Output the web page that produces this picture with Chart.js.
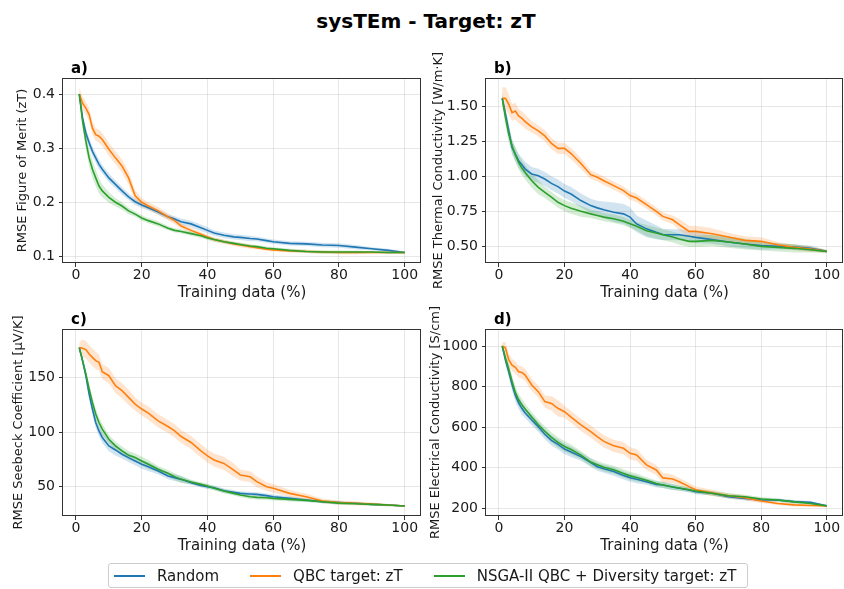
<!DOCTYPE html>
<html>
<head>
<meta charset="utf-8">
<title>sysTEm - Target: zT</title>
<script src="https://cdn.jsdelivr.net/npm/chart.js@4.4.1/dist/chart.umd.min.js"></script>
<style>
  html, body { margin:0; padding:0; background:#fff; }
  body { width:844px; height:589px; position:relative; overflow:hidden; font-family:'DejaVu Sans', sans-serif; color:#1a1a1a; }
  #titulo { position:absolute; left:0; top:11px; width:852px; text-align:center; font-weight:bold; font-size:20px; line-height:20px; color:#000; }
  .painel { position:absolute; }
  #legenda { position:absolute; left:108px; top:563px; width:640px; height:25px; box-sizing:border-box; border:1px solid #cccccc; border-radius:3px;
             display:flex; align-items:center; padding-left:5px; font-size:15px; white-space:nowrap; }
  #legenda .linha { display:inline-block; width:31px; height:2px; margin-right:12px; }
  #legenda .texto { margin-right:31px; }
  #legenda .texto:last-child { margin-right:0; }
</style>
</head>
<body>
<div id="titulo">sysTEm - Target: zT</div>
<canvas id="pa" class="painel" width="422" height="270" style="left:0;top:40px"></canvas>
<canvas id="pb" class="painel" width="422" height="270" style="left:422px;top:40px"></canvas>
<canvas id="pc" class="painel" width="422" height="263" style="left:0;top:300px"></canvas>
<canvas id="pd" class="painel" width="422" height="263" style="left:422px;top:300px"></canvas>
<div id="legenda"></div>

<script>
const X_PCT = [1,2,3,4,5,6,7,8,10,12,14,16,18,20,22,25,28,30,32,35,38,40,42,45,48,50,53,55,58,60,65,70,75,80,85,90,95,100];
const X_TICKS = [0,20,40,60,80,100];
const X_LABELS = ['0','20','40','60','80','100'];

const SERIES_NAMES = ['Random', 'QBC target: zT', 'NSGA-II QBC + Diversity target: zT'];
const SERIES_COLORS = ['#1f77b4', '#ff7f0e', '#2ca02c'];

// a) figure of merit
const A_RANDOM = [.400,.356,.328,.310,.294,.282,.270,.261,.245,.233,.221,.210,.201,.195,.190,.182,.173,.169,.164,.160,.153,.148,.143,.139,.136,.135,.133,.132,.129,.127,.124,.123,.121,.120,.117,.114,.111,.107];
const A_QBC    = [.400,.383,.374,.362,.337,.325,.322,.316,.298,.282,.267,.245,.212,.200,.193,.184,.173,.166,.156,.148,.141,.136,.131,.127,.123,.121,.118,.116,.113,.112,.110,.109,.108,.107,.107,.107,.107,.107];
const A_NSGA   = [.400,.350,.313,.282,.261,.245,.230,.221,.209,.200,.193,.184,.178,.171,.166,.160,.152,.148,.146,.142,.138,.134,.131,.127,.124,.122,.119,.118,.115,.114,.111,.109,.108,.108,.108,.108,.107,.107];
const A_RANDOM_SD = [0,.006,.008,.009,.009,.009,.009,.008,.008,.007,.007,.006,.006,.006,.005,.005,.005,.005,.006,.006,.006,.006,.005,.005,.005,.005,.005,.004,.004,.004,.004,.004,.004,.004,.004,.003,.003,.002];
const A_QBC_SD    = [.012,.012,.012,.012,.012,.012,.012,.012,.012,.012,.012,.012,.010,.008,.007,.007,.006,.006,.005,.005,.004,.004,.004,.004,.004,.004,.004,.003,.003,.003,.003,.003,.003,.003,.003,.002,.002,.002];
const A_NSGA_SD   = [.006,.012,.015,.016,.016,.015,.014,.012,.010,.008,.007,.006,.005,.005,.005,.005,.004,.004,.004,.004,.004,.004,.004,.003,.003,.003,.003,.003,.003,.003,.003,.003,.003,.003,.003,.002,.002,.002];
const A_YTICKS = [0.1,0.2,0.3,0.4];
const A_YLABELS = ['0.1','0.2','0.3','0.4'];

// b) thermal conductivity
const B_RANDOM = [1.557,1.443,1.325,1.206,1.159,1.111,1.083,1.052,1.017,1.005,.981,.950,.927,.895,.874,.827,.791,.775,.761,.744,.732,.709,.660,.625,.600,.585,.583,.583,.572,.564,.548,.531,.517,.505,.500,.495,.486,.464];
const B_QBC    = [1.557,1.557,1.514,1.455,1.467,1.431,1.415,1.391,1.353,1.325,1.289,1.235,1.200,1.200,1.163,1.092,1.012,.993,.969,.934,.898,.863,.845,.798,.750,.714,.690,.655,.607,.607,.590,.567,.543,.536,.512,.493,.480,.464];
const B_NSGA   = [1.557,1.419,1.300,1.218,1.154,1.100,1.059,1.028,.969,.922,.886,.851,.815,.791,.773,.751,.732,.720,.709,.697,.680,.661,.643,.612,.595,.583,.567,.552,.536,.536,.543,.531,.517,.500,.493,.486,.476,.464];
const B_RANDOM_SD = [.03,.04,.05,.05,.05,.05,.05,.05,.05,.05,.05,.05,.05,.05,.05,.05,.05,.05,.06,.07,.07,.07,.06,.06,.05,.04,.04,.04,.04,.04,.03,.03,.03,.03,.02,.02,.02,.01];
const B_QBC_SD    = [.08,.08,.07,.06,.06,.05,.05,.05,.04,.04,.04,.04,.04,.04,.04,.04,.03,.03,.03,.03,.03,.03,.03,.03,.03,.03,.03,.04,.04,.04,.04,.03,.03,.03,.02,.02,.02,.01];
const B_NSGA_SD   = [.05,.06,.06,.05,.05,.05,.05,.05,.05,.05,.04,.04,.04,.04,.04,.04,.03,.03,.03,.03,.03,.03,.03,.04,.04,.04,.04,.04,.04,.04,.04,.04,.04,.03,.03,.03,.02,.01];
const B_YTICKS = [0.5,0.75,1.0,1.25,1.5];
const B_YLABELS = ['0.50','0.75','1.00','1.25','1.50'];

// c) seebeck coefficient
const C_RANDOM = [177.2,165.3,151.5,134.7,121,108.7,101,95,87.3,83.6,79.7,76.6,73.5,70.5,68.3,64.4,59.8,58.3,56.7,53.7,51.2,50,49.1,46.3,44.8,43.9,43.3,43,41.8,40.8,39.3,37.8,36.3,35.4,34.8,33.8,33.2,32.3];
const C_QBC    = [177.2,176.6,175.4,171.4,168.3,165.3,163.8,155.2,151.5,142.4,137.8,131.7,125.5,121,117.3,110.2,105,101,95.9,90.4,82.7,78.1,74.4,71.3,65.2,60.7,59.1,54.6,50,48.5,43.9,40.8,36.9,35.4,34.8,34.1,33.2,32.3];
const C_NSGA   = [177.2,165.3,153,139.3,127,116.4,108.7,102.6,93.4,87.3,82.7,78.7,76.6,73.5,70.5,65.9,62.2,59.2,56.7,54.3,52.1,50.6,48.5,46,43.9,42.4,40.8,40.2,39.9,39.3,38.4,37.5,36.3,35,34.4,33.8,33.2,32.3];
const C_RANDOM_SD = [0,3,4,5,5,5,5,5,5,5,4,4,4,4,4,3,3,3,3,2,2,2,2,2,2,2,2,2,2,2,2,1.5,1.5,1.5,1,1,1,0.5];
const C_QBC_SD    = [5,8,8,8,8,8,7,7,7,7,7,7,6,6,6,6,6,6,6,6,6,6,6,6,6,5,5,5,4,4,3,3,2,2,2,1.5,1,0.5];
const C_NSGA_SD   = [0,3,4,5,5,5,5,5,4,4,4,4,4,4,4,3,3,3,3,2,2,2,2,2,2,2,2,2,2,2,2,1.5,1.5,1.5,1,1,1,0.5];
const C_YTICKS = [50,100,150];
const C_YLABELS = ['50','100','150'];

// d) electrical conductivity
const D_RANDOM = [1000,930,873,810,758,720,693,670,635,602,565,535,515,492,478,455,425,405,395,381,362,351,343,331,318,315,305,299,290,282,274,257,249,241,241,233,230,212];
const D_QBC    = [1000,990,931,906,895,873,870,857,808,775,726,717,693,676,650,611,578,553,530,508,496,471,463,414,389,350,345,331,307,292,276,262,252,236,224,217,214,212];
const D_NSGA   = [1000,940,885,825,770,735,710,690,650,612,580,550,525,505,490,462,428,415,402,390,372,360,352,338,322,315,305,300,292,285,274,262,257,246,241,232,224,212];
const D_RANDOM_SD = [0,25,30,30,30,30,30,25,25,25,25,25,25,25,25,20,20,20,20,20,20,20,20,15,15,15,15,12,12,12,10,10,10,10,8,8,6,3];
const D_QBC_SD    = [20,30,30,30,30,30,30,30,30,30,30,35,40,30,30,30,30,30,30,30,30,30,30,25,25,25,20,20,18,15,15,12,12,10,8,8,5,3];
const D_NSGA_SD   = [0,25,30,30,30,30,30,25,25,25,25,25,25,25,25,20,20,20,20,20,20,20,20,15,15,15,15,12,12,12,12,12,10,10,8,8,6,3];
const D_YTICKS = [200,400,600,800,1000];
const D_YLABELS = ['200','400','600','800','1000'];

(function(){
  'use strict';

  const FONTE = "'DejaVu Sans', sans-serif";
  const COR_TEXTO = '#1a1a1a';
  const COR_GRADE = 'rgba(176,176,176,0.3)';
  const COR_EIXO = '#333333';

  Chart.defaults.font.family = FONTE;
  Chart.defaults.color = COR_TEXTO;

  function rgba(hex, a){
    const n = parseInt(hex.slice(1), 16);
    return `rgba(${(n >> 16) & 255},${(n >> 8) & 255},${n & 255},${a})`;
  }

  function pontos(vals, sd, sinal){
    return X_PCT.map((x, i) => ({ x, y: vals[i] + sinal * ((sd && sd[i]) || 0) }));
  }

  // panel letter + the full axes box (matplotlib style spines)
  const moldura = {
    id: 'moldura',
    afterDraw(chart, args, opts){
      const { ctx, chartArea: a } = chart;
      ctx.save();
      ctx.strokeStyle = COR_EIXO;
      ctx.lineWidth = 1;
      const l = Math.round(a.left) - 0.5, t = Math.round(a.top) + 0.5;
      const r = Math.round(a.right) - 0.5, b = Math.round(a.bottom) - 0.5;
      ctx.strokeRect(l, t, r - l, b - t);
      ctx.fillStyle = '#000';
      ctx.font = 'bold 15px ' + FONTE;
      ctx.textBaseline = 'alphabetic';
      ctx.textAlign = 'left';
      ctx.fillText(opts.letra, a.left + 8, a.top - 5);
      ctx.restore();
    }
  };

  function criarPainel(p){
    const datasets = [];
    p.series.forEach((vals, k) => {
      const cor = SERIES_COLORS[k];
      datasets.push({ data: pontos(vals, p.sd[k], -1), borderWidth: 0, pointRadius: 0, fill: false, order: 20 - k });
      datasets.push({ data: pontos(vals, p.sd[k], 1), borderWidth: 0, pointRadius: 0, fill: '-1',
                      backgroundColor: rgba(cor, 0.2), order: 20 - k });
    });
    p.series.forEach((vals, k) => {
      datasets.push({ label: SERIES_NAMES[k], data: pontos(vals, null, 0), borderColor: SERIES_COLORS[k],
                      borderWidth: 1.6, pointRadius: 0, fill: false, tension: 0, order: 3 - k });
    });

    return new Chart(document.getElementById(p.id), {
      type: 'line',
      data: { datasets },
      plugins: [moldura],
      options: {
        responsive: false,
        animation: false,
        events: [],
        layout: { padding: { top: p.topo, right: 1, left: 0, bottom: 0 } },
        plugins: {
          legend: { display: false },
          tooltip: { enabled: false },
          moldura: { letra: p.letra }
        },
        scales: {
          x: {
            type: 'linear', min: -3.95, max: 104.95,
            afterBuildTicks: s => { s.ticks = X_TICKS.map(v => ({ value: v })); },
            afterFit: s => { s.height = 47; },
            grid: { color: COR_GRADE, tickLength: 4, tickColor: COR_EIXO },
            border: { display: false },
            ticks: { padding: 0, autoSkip: false, maxRotation: 0, font: { size: 14 }, color: COR_TEXTO,
                     callback: (v, i) => X_LABELS[i] },
            title: { display: true, text: 'Training data (%)', font: { size: 15 }, color: COR_TEXTO,
                     padding: { top: 0, bottom: 8 } }
          },
          y: {
            type: 'linear', min: p.ymin, max: p.ymax,
            afterBuildTicks: s => { s.ticks = p.yticks.map(v => ({ value: v })); },
            afterFit: s => { s.width = p.largura; },
            grid: { color: COR_GRADE, tickLength: 4, tickColor: COR_EIXO },
            border: { display: false },
            ticks: { padding: 4, autoSkip: false, font: { size: 14 }, color: COR_TEXTO,
                     callback: (v, i) => p.ylabels[i] },
            title: { display: true, text: p.ytitulo, font: { size: 13 }, color: COR_TEXTO,
                     padding: { top: p.padTitulo, bottom: 0 } }
          }
        }
      }
    });
  }

  function montarLegenda(){
    const leg = document.getElementById('legenda');
    SERIES_NAMES.forEach((nome, k) => {
      const linha = document.createElement('span');
      linha.className = 'linha';
      linha.style.background = SERIES_COLORS[k];
      const txt = document.createElement('span');
      txt.className = 'texto';
      txt.textContent = nome;
      leg.appendChild(linha);
      leg.appendChild(txt);
    });
  }

  function init(){
    criarPainel({ id: 'pa', letra: 'a)', ytitulo: 'RMSE Figure of Merit (zT)', topo: 38, largura: 63, padTitulo: 15,
                  ymin: 0.0877, ymax: 0.4296, yticks: A_YTICKS, ylabels: A_YLABELS,
                  series: [A_RANDOM, A_QBC, A_NSGA], sd: [A_RANDOM_SD, A_QBC_SD, A_NSGA_SD] });
    criarPainel({ id: 'pb', letra: 'b)', ytitulo: 'RMSE Thermal Conductivity [W/m\u00b7K]', topo: 38, largura: 64, padTitulo: 9,
                  ymin: 0.3812, ymax: 1.7026, yticks: B_YTICKS, ylabels: B_YLABELS,
                  series: [B_RANDOM, B_QBC, B_NSGA], sd: [B_RANDOM_SD, B_QBC_SD, B_NSGA_SD] });
    criarPainel({ id: 'pc', letra: 'c)', ytitulo: 'RMSE Seebeck Coefficient [\u03bcV/K]', topo: 29, largura: 63, padTitulo: 11,
                  ymin: 23.2, ymax: 194.2, yticks: C_YTICKS, ylabels: C_YLABELS,
                  series: [C_RANDOM, C_QBC, C_NSGA], sd: [C_RANDOM_SD, C_QBC_SD, C_NSGA_SD] });
    criarPainel({ id: 'pd', letra: 'd)', ytitulo: 'RMSE Electrical Conductivity [S/cm]', topo: 29, largura: 64, padTitulo: 6,
                  ymin: 162.2, ymax: 1083.8, yticks: D_YTICKS, ylabels: D_YLABELS,
                  series: [D_RANDOM, D_QBC, D_NSGA], sd: [D_RANDOM_SD, D_QBC_SD, D_NSGA_SD] });
    montarLegenda();
  }

  if (document.readyState === 'loading'){
    document.addEventListener('DOMContentLoaded', init);
  } else {
    init();
  }
})();
</script>
</body>
</html>
